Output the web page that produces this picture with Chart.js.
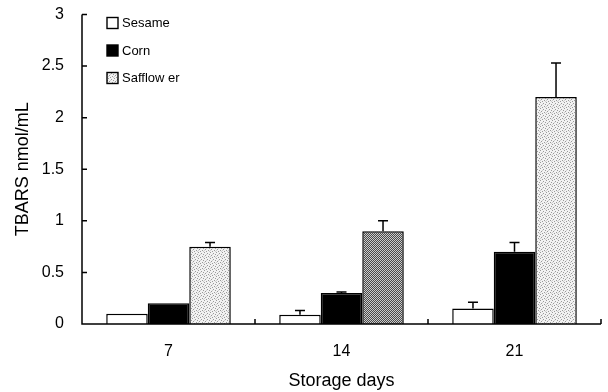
<!DOCTYPE html>
<html>
<head>
<meta charset="utf-8">
<script src="https://cdn.jsdelivr.net/npm/chart.js@4.4.1/dist/chart.umd.min.js"></script>
<style>
html,body{margin:0;padding:0;background:#fff;}
#wrap{width:608px;height:392px;position:relative;}
</style>
</head>
<body>
<div id="wrap"><canvas id="c" width="608" height="392"></canvas></div>
<script>
const categories = ["7", "14", "21"];
const seriesNames = ["Sesame", "Corn", "Safflow er"];
const sesame = [0.1, 0.09, 0.15];
const corn = [0.2, 0.3, 0.7];
const safflower = [0.75, 0.9, 2.2];
const sesameErr = [0, 0.04, 0.06];
const cornErr = [0, 0.01, 0.09];
const safflowerErr = [0.04, 0.1, 0.33];
const yTicks = [0, 0.5, 1, 1.5, 2, 2.5, 3];

const FONT = "'Liberation Sans', Arial, sans-serif";

function makePattern(kind) {
  const c = document.createElement('canvas');
  const ctx = c.getContext('2d');
  if (kind === 'dots') {
    c.width = 6; c.height = 6;
    ctx.fillStyle = '#f2f2f2'; ctx.fillRect(0,0,6,6);
    ctx.fillStyle = '#9a9a9a';
    [[0,0],[3,1],[1,3],[4,4],[5,2],[2,5]].forEach(p => ctx.fillRect(p[0],p[1],1,1));
    ctx.fillStyle = '#cfcfcf';
    [[2,2],[5,5],[0,4]].forEach(p => ctx.fillRect(p[0],p[1],1,1));
  } else {
    c.width = 4; c.height = 4;
    ctx.fillStyle = '#cccccc'; ctx.fillRect(0,0,4,4);
    ctx.fillStyle = '#4a4a4a';
    for (let i = 0; i < 4; i++) { ctx.fillRect(i, 3 - i, 1, 1); ctx.fillRect((i+2)%4, 3 - i, 1, 1); }
  }
  return ctx.createPattern(c, 'repeat');
}
const dots = makePattern('dots');
const hatch = makePattern('hatch');

const errors = [sesameErr, cornErr, safflowerErr];

const errorBarPlugin = {
  id: 'errorBars',
  afterDatasetsDraw(chart) {
    const ctx = chart.ctx;
    const y = chart.scales.y;
    ctx.save();
    ctx.strokeStyle = '#000';
    ctx.lineWidth = 1.5;
    chart.data.datasets.forEach((ds, di) => {
      const meta = chart.getDatasetMeta(di);
      meta.data.forEach((bar, i) => {
        const e = errors[di][i];
        if (!e) return;
        const top = y.getPixelForValue(ds.data[i] + e);
        const base = y.getPixelForValue(ds.data[i]);
        ctx.beginPath();
        ctx.moveTo(bar.x, base);
        ctx.lineTo(bar.x, top);
        ctx.moveTo(bar.x - 5, top);
        ctx.lineTo(bar.x + 5, top);
        ctx.stroke();
      });
    });
    ctx.restore();
  }
};

const axesPlugin = {
  id: 'axesTicks',
  afterDraw(chart) {
    const ctx = chart.ctx;
    const x = chart.scales.x, y = chart.scales.y;
    const a = chart.chartArea;
    ctx.save();
    ctx.strokeStyle = '#000';
    ctx.lineWidth = 1.5;
    ctx.beginPath();
    ctx.moveTo(a.left, a.top);
    ctx.lineTo(a.left, a.bottom);
    ctx.lineTo(a.right, a.bottom);
    yTicks.forEach(v => {
      const py = y.getPixelForValue(v);
      ctx.moveTo(a.left, py);
      ctx.lineTo(a.left + 5, py);
    });
    for (let i = 0; i < categories.length; i++) {
      const px = i < categories.length - 1
        ? (x.getPixelForValue(i) + x.getPixelForValue(i + 1)) / 2
        : a.right;
      ctx.moveTo(px, a.bottom);
      ctx.lineTo(px, a.bottom - 5);
    }
    ctx.stroke();

    // legend
    const meta = chart.data.datasets;
    ctx.font = '13px ' + FONT;
    ctx.textBaseline = 'middle';
    ctx.textAlign = 'left';
    const lx = a.left + 25, ly0 = a.top + 8.5, step = 27.5;
    meta.forEach((ds, i) => {
      const cy = ly0 + i * step;
      ctx.fillStyle = ds.legendFill;
      ctx.fillRect(lx, cy - 5.5, 11, 11);
      ctx.lineWidth = 1.4;
      ctx.strokeStyle = '#000';
      ctx.strokeRect(lx, cy - 5.5, 11, 11);
      ctx.fillStyle = '#000';
      ctx.fillText(ds.label, lx + 15, cy + 0.5);
    });
    ctx.restore();
  }
};

new Chart(document.getElementById('c'), {
  type: 'bar',
  data: {
    labels: categories,
    datasets: [
      { label: seriesNames[0], data: sesame, backgroundColor: '#ffffff', borderColor: '#000', borderWidth: 1.5, legendFill: '#ffffff' },
      { label: seriesNames[1], data: corn, backgroundColor: '#000000', borderColor: '#000', borderWidth: 1.5, legendFill: '#000000' },
      { label: seriesNames[2], data: safflower, backgroundColor: [dots, hatch, dots], borderColor: '#000', borderWidth: 1.5, legendFill: dots }
    ]
  },
  options: {
    responsive: false,
    animation: false,
    devicePixelRatio: 1,
    layout: { autoPadding: false, padding: { top: 0, right: 7, left: 0, bottom: 0 } },
    categoryPercentage: 0.72,
    barPercentage: 1,
    plugins: { legend: { display: false }, tooltip: { enabled: false } },
    scales: {
      x: {
        grid: { display: false, drawTicks: false },
        border: { display: false },
        ticks: { color: '#000', font: { family: FONT, size: 16 }, padding: 18 },
        title: { display: true, text: 'Storage days', color: '#000', font: { family: FONT, size: 18 }, padding: { top: 6, bottom: 0 } },
        afterFit(s) { s.height = 68; s.paddingLeft = 0; s.paddingRight = 0; }
      },
      y: {
        min: 0, max: 3,
        afterBuildTicks(s) { s.ticks = yTicks.map(v => ({ value: v })); },
        grid: { display: false, drawTicks: false },
        border: { display: false },
        ticks: { color: '#000', font: { family: FONT, size: 16 }, padding: 18,
          callback: v => String(v) },
        title: { display: true, text: 'TBARS nmol/mL', color: '#000', font: { family: FONT, size: 18 }, padding: { top: 12, bottom: 0 } },
        afterFit(s) { s.width = 82; s.paddingTop = 14.5; s.paddingBottom = 0; }
      }
    }
  },
  plugins: [errorBarPlugin, axesPlugin]
});
</script>
</body>
</html>
